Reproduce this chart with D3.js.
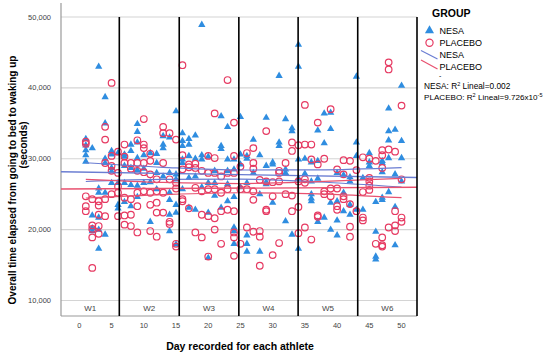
<!DOCTYPE html>
<html>
<head>
<meta charset="utf-8">
<script src="https://cdn.jsdelivr.net/npm/d3@7"></script>
<style>
  body { margin: 0; background: #fff; }
  svg { display: block; font-family: "Liberation Sans", Arial, sans-serif; }
</style>
</head>
<body>
<script>
// seconds per athlete, grouped by day
var nesa = [
  [1, [32800, 31900, 31200, 30500, 29600]],
  [2, [31500, 22000, 20200, 19800]],
  [3, [43000, 25800, 25200, 21700, 20000, 17300]],
  [4, [38700, 35000, 30000, 29400, 25200, 19300]],
  [5, [31100, 30600, 28700, 28200, 26600]],
  [6, [30800, 26600, 23500, 23000]],
  [7, [30600, 30300, 29000, 26600, 23900]],
  [8, [32000, 31100, 28700, 26300, 23300]],
  [9, [34900, 33800, 32300, 30100, 28400, 26200, 24600]],
  [10, [30500, 28600, 26600]],
  [11, [30800, 26700, 21100]],
  [12, [30700, 29400, 28000, 25700]],
  [13, [33200, 32000, 31500, 27500]],
  [14, [33000, 28000, 25200, 24200, 22100, 19800]],
  [15, [36700, 27800, 27100, 23500, 22400, 17900]],
  [16, [33600, 32500, 31800, 29900, 29400, 25700]],
  [17, [32800, 32000, 30400, 27300, 23100]],
  [18, [33300, 30000, 27500, 22800]],
  [19, [48900, 30500, 29900, 26000]],
  [20, [30300, 26600, 22400, 16000]],
  [21, [28300, 26600, 24800]],
  [22, [36000, 31800, 31400, 23100]],
  [23, [34500, 29900, 28300, 26400, 24000]],
  [24, [29900, 28500, 24600, 20300, 19800, 18000]],
  [25, [35900, 30600, 29200, 26000]],
  [26, [30400, 30000, 26600, 19200, 18000, 16900]],
  [27, [32700, 28000]],
  [28, [30500, 25000, 16900]],
  [29, [35800, 29000, 26700, 26400]],
  [30, [29500, 29200, 23800]],
  [31, [41700, 32300, 31800]],
  [32, [35600, 28500, 28000, 21200]],
  [33, [34300, 33900, 19300]],
  [34, [46100, 43000, 29900, 27200, 17300]],
  [35, [30000, 27900]],
  [36, [29500, 26800, 25000, 24400, 24000]],
  [37, [34000, 29700, 27200, 21100]],
  [38, [36400, 32200, 21700]],
  [39, [36500, 34200, 23800, 20000]],
  [40, [28000, 24000, 21300, 19200]],
  [41, [27700, 25200, 22600]],
  [42, [27400, 26800, 23500, 22100]],
  [43, [41600, 32300, 30400, 22800]],
  [44, [27300, 22800]],
  [45, [30800, 29500, 29000]],
  [46, [23900, 19700, 16200, 15800]],
  [47, [29700, 29400, 28100, 24500, 24200]],
  [48, [37100, 33900, 32600, 30100, 25300]],
  [49, [34100, 27800, 23200, 17800]],
  [50, [40300, 32500, 30100, 26800]]
];

var placebo = [
  [1, [32400, 32100, 24700, 23300, 22600]],
  [2, [24300, 20600, 20100, 18900, 14600]],
  [3, [24000, 23400, 22100, 20500, 19400]],
  [4, [34500, 32700, 29400, 24300, 21900]],
  [5, [40700, 30400, 29000, 28300, 25000]],
  [6, [31000, 28000, 26100, 25200, 21900]],
  [7, [32000, 30300, 29400, 24500, 22000, 20700]],
  [8, [29400, 28600, 24300, 22100, 20500]],
  [9, [32600, 29400, 28300, 25200, 23300, 19600]],
  [10, [35600, 32000, 31500, 29400, 28100, 25400]],
  [11, [30700, 29700, 27800, 25200, 23500, 19800]],
  [12, [27100, 25400, 23800, 22400, 19000]],
  [13, [34500, 33600, 29400, 25200, 22400]],
  [14, [33600, 27100, 21100, 20800]],
  [15, [32700, 26600, 25800, 18000, 17600]],
  [16, [43200, 30500, 28500, 24300, 24000]],
  [17, [29200, 28800, 23000]],
  [18, [29300, 28700, 25900, 19600]],
  [19, [28300, 25400, 22100, 18900]],
  [20, [30400, 28000, 25700, 21900, 16200]],
  [21, [36400, 30100, 28000, 25700, 21600, 20000]],
  [22, [27500, 25200, 22600, 18000]],
  [23, [41100, 28000, 25700, 22800]],
  [24, [35100, 30400, 28000, 22600, 19600, 18900, 16300]],
  [25, [28900, 25700, 18000]],
  [26, [30800, 25700, 20300]],
  [27, [31500, 29400, 28600, 25400, 24200, 19700]],
  [28, [27000, 19800, 19000, 14900]],
  [29, [33900, 26800, 22800, 22600]],
  [30, [26700, 24700, 16400]],
  [31, [28300, 28000, 26800, 18100]],
  [32, [29400, 25000]],
  [33, [32300, 31100, 24800, 22600]],
  [34, [31900, 26800, 23200, 19500]],
  [35, [37600, 32000, 27100, 26600, 20300]],
  [36, [32000, 29900, 18600]],
  [37, [35100, 29200, 22000, 21800]],
  [38, [30000, 25400, 25000]],
  [39, [37000, 25800, 24700]],
  [40, [28500, 25800, 23300, 22800]],
  [41, [29800, 27800, 24700, 24300]],
  [42, [29700, 23600, 20400, 19000]],
  [43, [28400, 22600]],
  [44, [30200, 25300, 21700, 21300]],
  [45, [30000, 27300, 26800, 26200, 25600]],
  [46, [29700, 18000]],
  [47, [31200, 30500, 28700, 18900, 17800, 17600]],
  [48, [43600, 42600, 31300, 20300]],
  [49, [31000, 22600, 20600, 19800]],
  [50, [37500, 27100, 21700, 21100]]
];

// fit lines (axis ends) and mean CI curves
var fitEnds = [-2.85, 52.4];
var nesaFit = [28170, 27350];
var placeboFit = [25730, 25970];
var ciDays = [1, 13, 25, 37, 50];
var nesaUpper = [29435, 28795, 28410, 28440, 28760];
var nesaLower = [26790, 27075, 27110, 26720, 26010];
var placeboUpper = [27095, 26660, 26500, 26765, 27235];
var placeboLower = [24460, 24940, 25200, 25045, 24500];

var weekBounds = [6.2, 15.5, 24.75, 33.95, 43.2, 52.4];
var weekNames = ["W1", "W2", "W3", "W4", "W5", "W6"];
var xTicks = [0, 5, 10, 15, 20, 25, 30, 35, 40, 45, 50];
var yTicks = [10000, 20000, 30000, 40000, 50000];

var blue = "#2f8de0", red = "#e63a62";
var blueLine = "#6a7dd2", redLine = "#e8516f";

var svg = d3.select("body").append("svg")
  .attr("width", 550)
  .attr("height", 358);

var x = d3.scaleLinear().domain([-2.85, 52.4]).range([61, 417]);
var y = d3.scaleLinear().domain([7810, 51975]).range([316, 3]);
var fmt = d3.format(",");

// gridlines
svg.selectAll(".grid").data(yTicks).enter().append("line")
  .attr("x1", 61).attr("x2", 417)
  .attr("y1", function(d){ return y(d); })
  .attr("y2", function(d){ return y(d); })
  .attr("stroke", "#d4d4d4")
  .attr("stroke-width", 1.2);

// axis lines
svg.append("line").attr("x1", 61).attr("x2", 61).attr("y1", 3).attr("y2", 316)
  .attr("stroke", "#9a9a9a").attr("stroke-width", 1.2);
svg.append("line").attr("x1", 61).attr("x2", 417).attr("y1", 316).attr("y2", 316)
  .attr("stroke", "#9a9a9a").attr("stroke-width", 1.2);

svg.selectAll(".ytick").data(yTicks).enter().append("text")
  .attr("x", 51)
  .attr("y", function(d){ return y(d) + 2.6; })
  .attr("text-anchor", "end")
  .style("font-size", "7.5px")
  .attr("fill", "#444")
  .text(function(d){ return fmt(d); });

svg.selectAll(".xtick").data(xTicks).enter().append("text")
  .attr("x", function(d){ return x(d); })
  .attr("y", 328)
  .attr("text-anchor", "middle")
  .style("font-size", "7.5px")
  .attr("fill", "#444")
  .text(function(d){ return d; });

// week labels
svg.selectAll(".week").data(weekNames).enter().append("text")
  .attr("x", function(d, i){
    var left = i == 0 ? x.domain()[0] : weekBounds[i-1];
    return (x(left) + x(weekBounds[i])) / 2;
  })
  .attr("y", 311)
  .attr("text-anchor", "middle")
  .style("font-size", "8px")
  .attr("fill", "#444")
  .text(function(d){ return d; });

function flat(rows){
  var out = [];
  rows.forEach(function(r){
    r[1].forEach(function(v){ out.push([r[0], v]); });
  });
  return out;
}

// points
svg.selectAll(".tri").data(flat(nesa)).enter().append("path")
  .attr("d", d3.symbol(d3.symbolTriangle).size(23))
  .attr("transform", function(d){ return "translate(" + x(d[0]) + "," + y(d[1]) + ")"; })
  .attr("fill", blue);

svg.selectAll(".circ").data(flat(placebo)).enter().append("circle")
  .attr("cx", function(d){ return x(d[0]); })
  .attr("cy", function(d){ return y(d[1]); })
  .attr("r", 3.3)
  .attr("fill", "none")
  .attr("stroke", red)
  .attr("stroke-width", 1.2);

// fit lines
var curve = d3.line()
  .x(function(d){ return x(d[0]); })
  .y(function(d){ return y(d[1]); })
  .curve(d3.curveMonotoneX);

function drawFit(vals, color){
  svg.append("path")
    .attr("d", curve([[fitEnds[0], vals[0]], [fitEnds[1], vals[1]]]))
    .attr("fill", "none").attr("stroke", color).attr("stroke-width", 1.4);
}
function drawCi(vals, color){
  svg.append("path")
    .attr("d", curve(ciDays.map(function(d, i){ return [d, vals[i]]; })))
    .attr("fill", "none").attr("stroke", color).attr("stroke-width", 1.2);
}
drawFit(nesaFit, blueLine);
drawCi(nesaUpper, blueLine);
drawCi(nesaLower, blueLine);
drawFit(placeboFit, redLine);
drawCi(placeboUpper, redLine);
drawCi(placeboLower, redLine);

// week separators
svg.selectAll(".sep").data(weekBounds).enter().append("line")
  .attr("x1", function(d){ return x(d); })
  .attr("x2", function(d){ return x(d); })
  .attr("y1", y(50000))
  .attr("y2", 316)
  .attr("stroke", "#000")
  .attr("stroke-width", 1.6);

// axis titles
svg.append("text")
  .attr("x", 240).attr("y", 350)
  .attr("text-anchor", "middle")
  .style("font-size", "10.5px").style("font-weight", "bold")
  .text("Day recorded for each athlete");

svg.append("text")
  .attr("transform", "translate(16,180) rotate(-90)")
  .attr("text-anchor", "middle")
  .style("font-size", "10px").style("font-weight", "bold")
  .text("Overall time elapsed from going to bed to waking up");
svg.append("text")
  .attr("transform", "translate(27,145) rotate(-90)")
  .attr("text-anchor", "middle")
  .style("font-size", "10px").style("font-weight", "bold")
  .text("(seconds)");

// legend
var lg = svg.append("g");
lg.append("text").attr("x", 432).attr("y", 17)
  .style("font-size", "10.5px").style("font-weight", "bold").text("GROUP");
lg.append("path")
  .attr("d", d3.symbol(d3.symbolTriangle).size(36))
  .attr("transform", "translate(429.5,30.5)")
  .attr("fill", blue);
lg.append("text").attr("x", 439.5).attr("y", 33.5).style("font-size", "9px").text("NESA");
lg.append("circle").attr("cx", 429.5).attr("cy", 42.7).attr("r", 3.6)
  .attr("fill", "none").attr("stroke", red).attr("stroke-width", 1.2);
lg.append("text").attr("x", 439.5).attr("y", 46).style("font-size", "9px").text("PLACEBO");
lg.append("line").attr("x1", 421).attr("y1", 50.5).attr("x2", 437.5).attr("y2", 59)
  .attr("stroke", blueLine).attr("stroke-width", 1.2);
lg.append("text").attr("x", 439.5).attr("y", 57.5).style("font-size", "9px").text("NESA");
lg.append("line").attr("x1", 421).attr("y1", 60).attr("x2", 437.5).attr("y2", 69)
  .attr("stroke", redLine).attr("stroke-width", 1.2);
lg.append("text").attr("x", 439.5).attr("y", 69.5).style("font-size", "9px").text("PLACEBO");
lg.append("text").attr("x", 439).attr("y", 78).style("font-size", "7px").text("-");

var r1 = lg.append("text").attr("x", 424).attr("y", 88.5).style("font-size", "8.3px");
r1.append("tspan").text("NESA: R");
r1.append("tspan").attr("dy", -3).style("font-size", "5.5px").text("2");
r1.append("tspan").attr("dy", 3).text(" Lineal=0.002");

var r2 = lg.append("text").attr("x", 424).attr("y", 100).style("font-size", "8.1px");
r2.append("tspan").text("PLACEBO: R");
r2.append("tspan").attr("dy", -3).style("font-size", "5.5px").text("2");
r2.append("tspan").attr("dy", 3).text(" Lineal=9.726x10");
r2.append("tspan").attr("dy", -3).style("font-size", "5.5px").text("-5");
</script>
</body>
</html>
